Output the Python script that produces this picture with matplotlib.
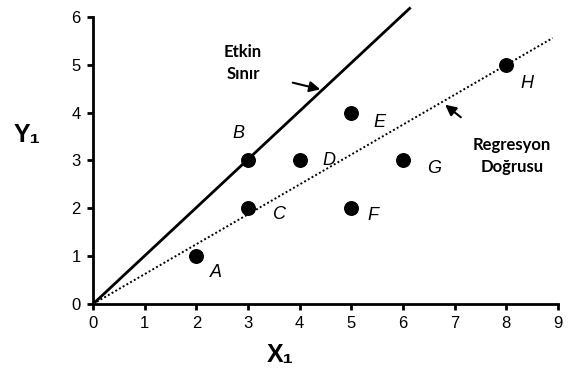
import numpy as np
import matplotlib
matplotlib.use("Agg")
import matplotlib.pyplot as plt

# data points
labels = ["A", "B", "C", "D", "E", "F", "G", "H"]
x_vals = [2, 3, 3, 4, 5, 5, 6, 8]
y_vals = [1, 3, 2, 3, 4, 2, 3, 5]

# lines from origin
frontier_x = [0, 6.15]
frontier_y = [0, 6.2]
regress_x = [0, 8.9]
regress_y = [0, 5.56]

x_ticks = list(range(0, 10))
y_ticks = list(range(0, 7))

# label offsets in pixels (dx, dy)
offsets = {"A": (19, -16), "B": (-10, 27), "C": (31, -6), "D": (29, 0),
           "E": (28, -10), "F": (22, -7), "G": (31, -8), "H": (21, -19)}

tick_font = ["Liberation Sans Narrow", "Liberation Sans", "DejaVu Sans"]

fig = plt.figure(figsize=(5.68, 3.78), dpi=100)
ax = fig.add_axes([0.164, 0.196, 0.818, 0.759])

ax.plot(frontier_x, frontier_y, color="black", lw=2, clip_on=False, solid_capstyle="butt")
ax.plot(regress_x, regress_y, color="black", lw=1.4, ls=(0, (1, 1.2)), clip_on=False)
ax.scatter(x_vals, y_vals, s=95, color="black", zorder=3, clip_on=False)

for lab, xv, yv in zip(labels, x_vals, y_vals):
    dx, dy = offsets[lab]
    ax.annotate(lab, (xv, yv), xytext=(dx * 0.72, dy * 0.72), textcoords="offset points",
                ha="center", va="center", fontsize=13, style="italic",
                family=["Liberation Sans", "DejaVu Sans"])

ax.set_xlim(0, 9)
ax.set_ylim(0, 6)
ax.set_xticks(x_ticks)
ax.set_yticks(y_ticks)
for s in ["top", "right"]:
    ax.spines[s].set_visible(False)
for s in ["left", "bottom"]:
    ax.spines[s].set_linewidth(2)
ax.tick_params(direction="out", length=4, width=2, labelsize=12, pad=5)
for t in ax.get_xticklabels() + ax.get_yticklabels():
    t.set_family(tick_font)

fig.text(280 / 568, 1 - 355 / 378, "X₁", ha="center", va="center", fontsize=18,
         fontweight="bold", family=["Liberation Sans", "DejaVu Sans"])
fig.text(27 / 568, 1 - 135 / 378, "Y₁", ha="center", va="center", fontsize=18,
         fontweight="bold", family=["Liberation Sans", "DejaVu Sans"])

txt_font = ["Lato", "DejaVu Sans"]
fig.text(243 / 568, 1 - 63 / 378, "Etkin\nSınır", ha="center", va="center",
         fontsize=12, fontweight="bold", family=txt_font, linespacing=1.45)
fig.text(512 / 568, 1 - 156 / 378, "Regresyon\nDoğrusu", ha="center", va="center",
         fontsize=12, fontweight="bold", family=txt_font, linespacing=1.45)

arrow = dict(arrowstyle="-|>", color="black", lw=1.5, mutation_scale=16)
ax.annotate("", xy=ax.transData.inverted().transform((323, 378 - 90)),
            xytext=ax.transData.inverted().transform((290, 378 - 82)), arrowprops=arrow)
ax.annotate("", xy=ax.transData.inverted().transform((443, 378 - 103)),
            xytext=ax.transData.inverted().transform((463, 378 - 119)), arrowprops=arrow)

fig.savefig("out.png", dpi=100)
